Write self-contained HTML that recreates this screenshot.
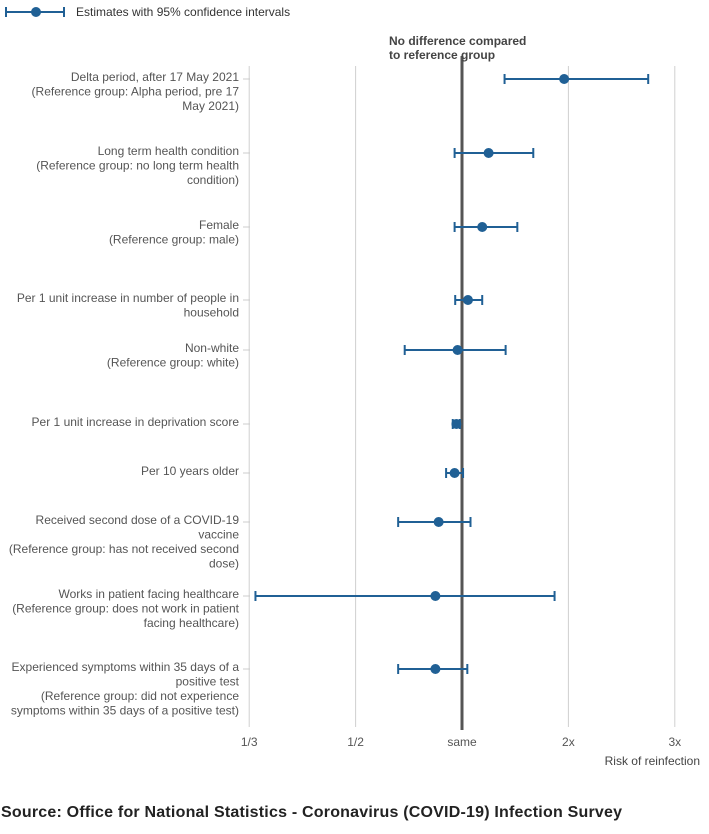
<!DOCTYPE html>
<html><head><meta charset="utf-8"><style>
body{margin:0;width:709px;height:829px;background:#fff;font-family:"Liberation Sans",sans-serif;overflow:hidden}
svg text{font-family:"Liberation Sans",sans-serif}
</style></head><body>
<svg id="c" width="709" height="829"></svg>
<script>
const labels=[
["Delta period, after 17 May 2021","(Reference group: Alpha period, pre 17","May 2021)"],
["Long term health condition","(Reference group: no long term health","condition)"],
["Female","(Reference group: male)"],
["Per 1 unit increase in number of people in","household"],
["Non-white","(Reference group: white)"],
["Per 1 unit increase in deprivation score"],
["Per 10 years older"],
["Received second dose of a COVID-19","vaccine","(Reference group: has not received second","dose)"],
["Works in patient facing healthcare","(Reference group: does not work in patient","facing healthcare)"],
["Experienced symptoms within 35 days of a","positive test","(Reference group: did not experience","symptoms within 35 days of a positive test)"]];
const estimates=[1.96,1.25,1.19,1.056,0.96,0.95,0.935,0.82,0.80,0.80];
const lower=[1.40,0.935,0.935,0.94,0.65,0.92,0.87,0.625,0.34,0.625];
const upper=[2.75,1.67,1.52,1.19,1.41,0.98,1.01,1.08,1.87,1.05];
const rowY=[79,153,227,300,350,424,473,522,596,669];
const tickVals=[1/3,0.5,1,2,3];
const tickLabels=["1/3","1/2","same","2x","3x"];
const NS="http://www.w3.org/2000/svg",svg=document.getElementById('c');
function x(v){const t=v>=1?v-1:1-1/v;return 462+106.4*t;}
function el(tag,a,txt){const e=document.createElementNS(NS,tag);for(const k in a)e.setAttribute(k,a[k]);if(txt!=null)e.textContent=txt;svg.appendChild(e);return e;}
const C="#206095";
let e=el('line',{x1:5,x2:64,y1:12,y2:12,stroke:C,'stroke-width':2});

el('line',{x1:6,x2:6,y1:7,y2:17,stroke:C,'stroke-width':2});
el('line',{x1:64,x2:64,y1:7,y2:17,stroke:C,'stroke-width':2});
el('circle',{cx:36,cy:12,r:5,fill:C});
e=el('text',{x:76,y:16,'font-size':12,fill:'#333'},"Estimates with 95% confidence intervals");

tickVals.forEach((v,i)=>{
 if(v!==1){const g=el('line',{x1:x(v),x2:x(v),y1:66,y2:727,stroke:'#d0d0d0','stroke-width':1});
 }
 const t=el('text',{x:x(v),y:746,'font-size':12,fill:'#555','text-anchor':'middle'},tickLabels[i]);
 
});
e=el('line',{x1:x(1),x2:x(1),y1:56,y2:730,stroke:'#555','stroke-width':3});

e=el('text',{x:389,y:45,'font-size':12,'font-weight':'bold',fill:'#444'},"No difference compared");

el('text',{x:389,y:59,'font-size':12,'font-weight':'bold',fill:'#444'},"to reference group");
e=el('text',{x:700,y:765,'font-size':12,fill:'#444','text-anchor':'end'},"Risk of reinfection");

labels.forEach((ls,i)=>{
 const y=rowY[i];
 el('line',{x1:243,x2:250,y1:y,y2:y,stroke:'#ccc','stroke-width':1});
 ls.forEach((s,j)=>{const t=el('text',{x:239,y:y+2+j*14.5,'font-size':12,fill:'#555','text-anchor':'end'},s);
  });
 const l=x(lower[i]),u=x(upper[i]),p=x(estimates[i]);
 const ci=el('line',{x1:l,x2:u,y1:y,y2:y,stroke:C,'stroke-width':2});
 
 el('line',{x1:l,x2:l,y1:y-5,y2:y+5,stroke:C,'stroke-width':2});
 el('line',{x1:u,x2:u,y1:y-5,y2:y+5,stroke:C,'stroke-width':2});
 const d=el('circle',{cx:p,cy:y,r:5,fill:C});
 
});
e=el('text',{x:1,y:817,'font-size':16,'font-weight':'bold',fill:'#222',textLength:621},"Source: Office for National Statistics - Coronavirus (COVID-19) Infection Survey");

</script>
</body></html>
